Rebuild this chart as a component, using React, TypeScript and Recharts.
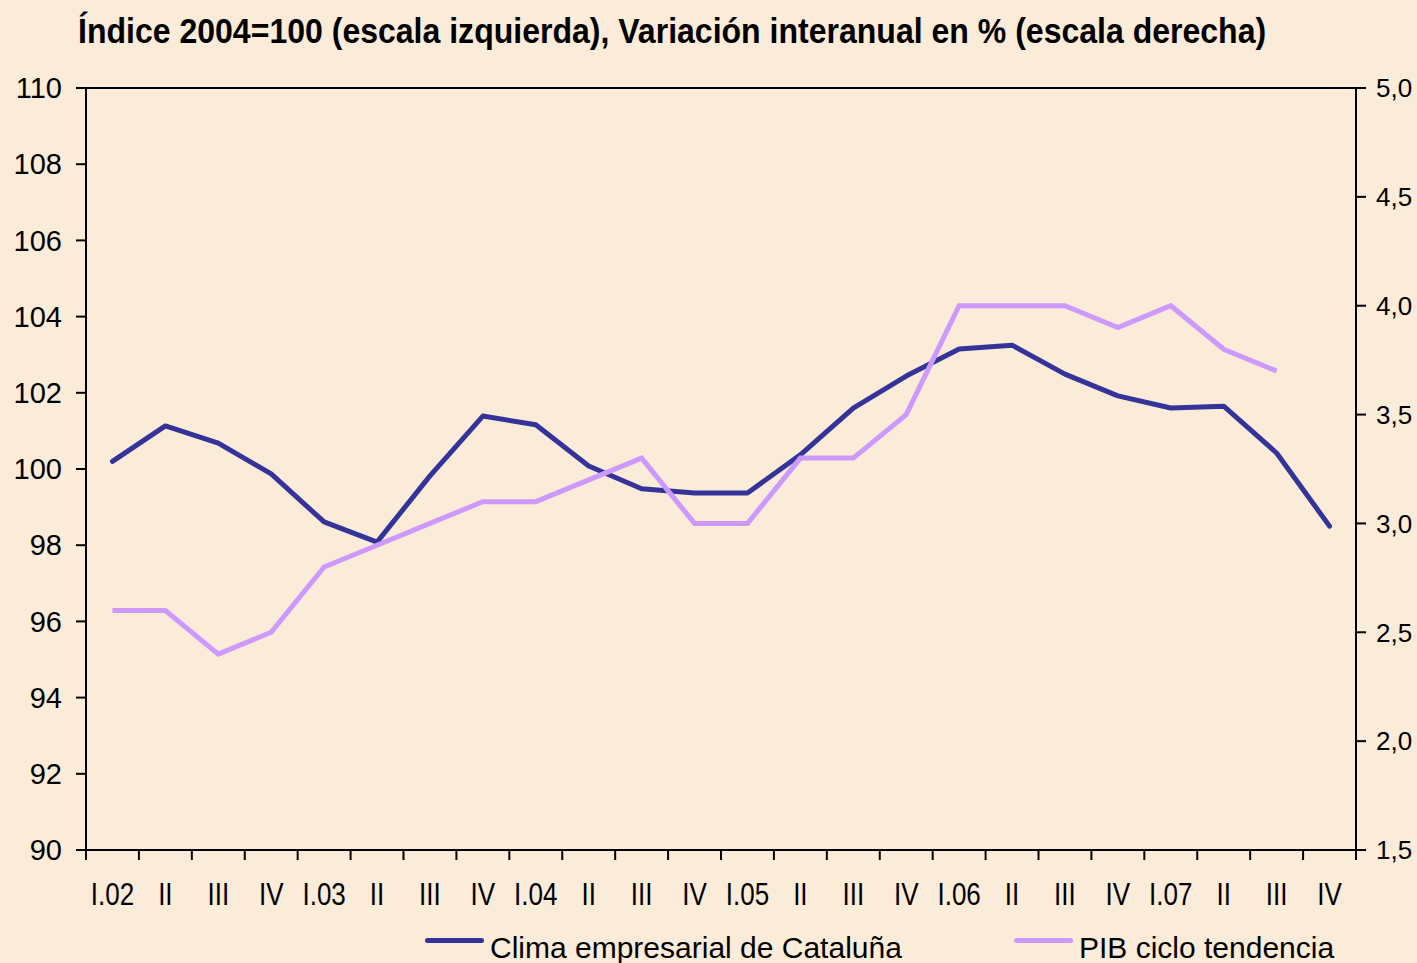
import React from 'react';
import { LineChart, Line, XAxis, YAxis, Legend, ReferenceLine } from 'recharts';

const categories = ['I.02','II','III','IV','I.03','II','III','IV','I.04','II','III','IV','I.05','II','III','IV','I.06','II','III','IV','I.07','II','III','IV'];
const clima = [100.2,101.13,100.68,99.87,98.61,98.08,99.82,101.39,101.16,100.08,99.48,99.37,99.37,100.37,101.6,102.44,103.15,103.25,102.49,101.92,101.6,101.65,100.42,98.5];
const pib: (number|null)[] = [2.6,2.6,2.4,2.5,2.8,2.9,3.0,3.1,3.1,3.2,3.3,3.0,3.0,3.3,3.3,3.5,4.0,4.0,4.0,3.9,4.0,3.8,3.7,null];
const leftTicks = [90,92,94,96,98,100,102,104,106,108,110];
const rightTicks = [1.5,2.0,2.5,3.0,3.5,4.0,4.5,5.0];
const titleText = 'Índice 2004=100 (escala izquierda), Variación interanual en % (escala derecha)';
const seriesNames = { clima: 'Clima empresarial de Cataluña', pib: 'PIB ciclo tendencia' };

const data = categories.map((c, i) => ({ cat: c, clima: clima[i], pib: pib[i] }));

const FONT = '"Liberation Sans", Arial, sans-serif';
const BG = '#FBEBD9';
const PLOT_W = 1270;
const HALF_STEP = PLOT_W / categories.length / 2;
const TICK_SIZE = 6;

const CatTick = (props: any) => {
  const { x, y, payload, index } = props;
  const axisY = y - TICK_SIZE;
  const isLast = index === categories.length - 1;
  return (
    <g>
      <line x1={x - HALF_STEP} x2={x - HALF_STEP} y1={axisY} y2={axisY + 10} stroke="#000" strokeWidth={2} />
      {isLast && <line x1={x + HALF_STEP} x2={x + HALF_STEP} y1={axisY} y2={axisY + 10} stroke="#000" strokeWidth={2} />}
      <g transform={`translate(${x},${axisY + 55})`}>
        <text x={0} y={0} textAnchor="middle" fontFamily={FONT} fontSize={31} fill="#000" transform="scale(0.84,1)">
          {payload.value}
        </text>
      </g>
    </g>
  );
};

const renderLegend = (props: any) => {
  const payload = props.payload || [];
  const offsets = [425, 1014];
  return (
    <div style={{ position: 'relative', width: 1417, height: 30 }}>
      {payload.map((p: any, i: number) => (
        <div key={i} style={{ position: 'absolute', left: offsets[i], top: 0, whiteSpace: 'nowrap', height: 30 }}>
          <div style={{ position: 'absolute', left: 0, top: 5, width: 59, height: 5, borderRadius: 3, background: p.color }} />
          <span style={{ position: 'absolute', left: 65, top: 0, lineHeight: '30px', fontFamily: FONT, fontSize: 30, color: '#000' }}>{p.value}</span>
        </div>
      ))}
    </div>
  );
};

export default function App() {
  return (
    <div style={{ position: 'absolute', left: 0, top: 0, width: 1417, height: 963, background: BG, overflow: 'hidden' }}>
      <div style={{ position: 'absolute', left: 78, top: 11, fontFamily: FONT, fontWeight: 'bold', fontSize: 35, color: '#000', whiteSpace: 'nowrap', transform: 'scaleX(0.915)', transformOrigin: 'left top' }}>
        {titleText}
      </div>
      <LineChart width={1417} height={963} data={data} margin={{ top: 88, right: 0, bottom: 0, left: 0 }} style={{ position: 'absolute', left: 0, top: 0 }}>
        <XAxis dataKey="cat" interval={0} padding={{ left: HALF_STEP, right: HALF_STEP }} tickLine={false} axisLine={{ stroke: '#000', strokeWidth: 2 }} tickSize={TICK_SIZE} tickMargin={0} tick={<CatTick />} height={113} />
        <YAxis yAxisId="left" domain={[90, 110]} ticks={leftTicks} width={86} tickSize={10} tickMargin={14} axisLine={{ stroke: '#000', strokeWidth: 2 }} tickLine={{ stroke: '#000', strokeWidth: 2 }} tick={{ fill: '#000', fontSize: 29, fontFamily: FONT }} interval={0} allowDataOverflow />
        <YAxis yAxisId="right" orientation="right" domain={[1.5, 5]} ticks={rightTicks} width={61} tickSize={10} tickMargin={10} axisLine={{ stroke: '#000', strokeWidth: 2 }} tickLine={{ stroke: '#000', strokeWidth: 2 }} tick={{ fill: '#000', fontSize: 26, fontFamily: FONT, textAnchor: 'start' }} tickFormatter={(v: number) => v.toFixed(1).replace('.', ',')} interval={0} allowDataOverflow />
        <ReferenceLine yAxisId="left" y={110} stroke="#000" strokeWidth={2} ifOverflow="visible" />
        <Line yAxisId="left" type="linear" dataKey="clima" name={seriesNames.clima} stroke="#333399" strokeWidth={5} strokeLinecap="round" strokeLinejoin="round" dot={false} isAnimationActive={false} />
        <Line yAxisId="right" type="linear" dataKey="pib" name={seriesNames.pib} stroke="#CC99FF" strokeWidth={5} dot={false} isAnimationActive={false} connectNulls={false} />
        <Legend verticalAlign="middle" layout="horizontal" content={renderLegend} wrapperStyle={{ left: 0, top: 933, width: 1417 }} />
      </LineChart>
    </div>
  );
}
